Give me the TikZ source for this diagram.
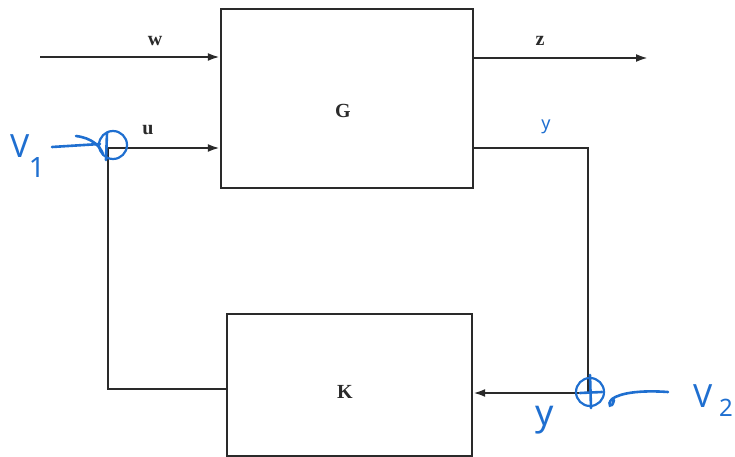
\documentclass[tikz,border=0pt]{standalone}
\usepackage{fontspec}
\setmainfont{Liberation Serif}
\newfontfamily\handfont{Noto Sans}
\usetikzlibrary{arrows.meta}
\definecolor{ink}{HTML}{2A2A2A}
\definecolor{pen}{HTML}{1F6FD0}
\begin{document}
\begin{tikzpicture}[x=1pt,y=-1pt,
  wire/.style={draw=ink,line width=2.2pt},
  arr/.style={wire,-{Latex[length=12pt,width=8pt]}},
  lbl/.style={font=\fontsize{20}{22}\selectfont\bfseries,text=ink,inner sep=0pt},
  hand/.style={text=pen,inner sep=0pt},
  penline/.style={draw=pen,line width=2.6pt,line cap=round}]
\useasboundingbox (0,0) rectangle (735,457);
% blocks
\node[draw=ink,line width=2.4pt,minimum width=252pt,minimum height=179pt,inner sep=0pt] (G) at (347,98.5) {};
\node[draw=ink,line width=2.4pt,minimum width=245pt,minimum height=142pt,inner sep=0pt] (K) at (349.5,385) {};
\node[lbl] (Gl) at (343,111) {G};
\node[lbl] (Kl) at (345,392) {K};
% coordinates
\coordinate (win) at (40,57);
\coordinate (wG) at (G.west |- win);
\coordinate (zstart) at (G.east |- 0,58);
\coordinate (zend) at (648,58);
\coordinate (sum1) at (108,148);
\coordinate (uG) at (G.west |- sum1);
\coordinate (Gy) at (G.east |- sum1);
\coordinate (rc) at (588,148);
\coordinate (sum2) at (588,393);
\coordinate (Kin) at (K.east |- sum2);
\coordinate (Kout) at (K.west |- 0,389);
\coordinate (bl) at (108,389);
% wires
\draw[arr] (win) -- (wG);
\draw[arr] (zstart) -- (zend);
\draw[arr] (sum1) -- (uG);
\draw[wire] (Gy) -- (rc) -- (sum2);
\draw[arr] (sum2) -- (Kin);
\draw[wire] (Kout) -- (bl) -- (sum1);
% labels
\node[lbl] (wl) at (155,41) {w};
\node[lbl] (ul) at (148,130) {u};
\node[lbl] (zl) at (540,41) {z};
% handwritten annotations
\node[draw=pen,line width=2.2pt,circle,minimum size=28pt,inner sep=0pt] (c1) at (113,145) {};
\node[draw=pen,line width=2.2pt,circle,minimum size=28pt,inner sep=0pt] (c2) at (590,392) {};
\draw[penline] (107,133) -- (106,160);
\draw[penline] (52,147) -- (100,144);
\draw[penline] (76,136) .. controls (92,138) and (100,146) .. (103,154);
\draw[penline] (590,375) -- (591,408);
\draw[penline] (580,393) -- (602,392);
\draw[penline] (668,392) .. controls (640,390) and (620,393) .. (612,399)
  .. controls (606,405) and (612,410) .. (614,400);
\node[hand,font=\handfont\fontsize{32}{34}\selectfont] (V1) at (20,146) {V};
\node[hand,font=\handfont\fontsize{28}{30}\selectfont] (V1s) at (37,168) {1};
\node[hand,font=\handfont\fontsize{32}{34}\selectfont] (V2) at (703,396) {V};
\node[hand,font=\handfont\fontsize{24}{26}\selectfont] (V2s) at (726,408) {2};
\node[hand,font=\handfont\fontsize{36}{38}\selectfont] (yl) at (545,420) {y};
\node[hand,font=\handfont\bfseries\fontsize{18}{20}\selectfont] (yt) at (546,127) {y};
\end{tikzpicture}
\end{document}
